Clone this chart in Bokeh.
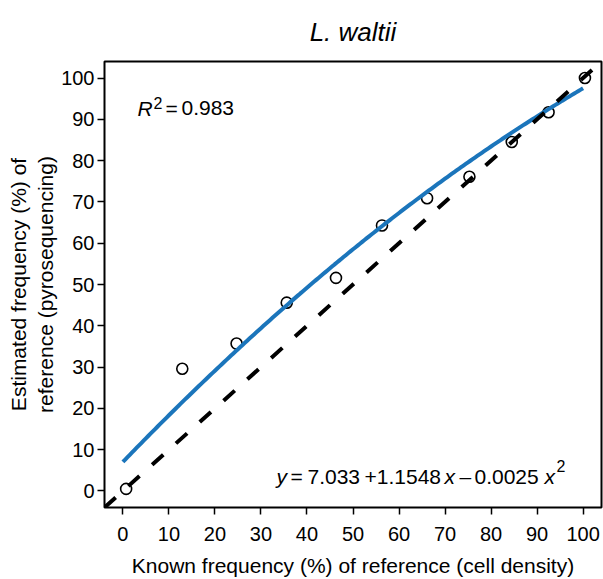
import numpy as np
from bokeh.plotting import figure
from bokeh.models import Range1d, FixedTicker, Label, Slope
from bokeh.embed import file_html
from bokeh.resources import INLINE

# ---- data ----
known_freq = [0.7, 12.9, 24.7, 35.6, 46.3, 56.3, 66.1, 75.3, 84.5, 92.5, 100.4]
estimated_freq = [0.5, 29.6, 35.7, 45.6, 51.6, 64.3, 70.9, 76.1, 84.5, 91.7, 100.0]
fit_coef = [7.033, 1.1548, -0.0025]   # y = a + b x + c x^2
fit_x_range = [0, 100]
tick_values = [0, 10, 20, 30, 40, 50, 60, 70, 80, 90, 100]

FONT = "Liberation Sans"
W, H = 603, 579
L, R, T, B = 104, 2, 60, 72
XMIN, XMAX, YMIN, YMAX = -4, 104, -4, 104

p = figure(width=W, height=H, output_backend="svg", toolbar_location=None,
           x_range=Range1d(XMIN, XMAX), y_range=Range1d(YMIN, YMAX),
           min_border_left=L, min_border_right=R, min_border_top=T, min_border_bottom=B,
           title="L. waltii")
p.background_fill_color = "white"
p.border_fill_color = "white"
p.outline_line_color = "black"
p.outline_line_width = 2
p.grid.visible = False

p.title.text_font = FONT
p.title.text_font_size = "26px"
p.title.text_font_style = "italic"
p.title.align = "center"
p.title.offset = 5
p.title.standoff = 29
p.title.text_color = "black"

for ax in (p.xaxis[0], p.yaxis[0]):
    ax.ticker = FixedTicker(ticks=tick_values, minor_ticks=[])
    ax.axis_line_color = None
    ax.major_tick_in = 0
    ax.major_tick_out = 7
    ax.major_tick_line_width = 1.5
    ax.major_tick_line_color = "black"
    ax.minor_tick_line_color = None
    ax.major_label_text_font = FONT
    ax.major_label_text_font_size = "20px"
    ax.major_label_text_color = "black"
    ax.axis_label_text_font = FONT
    ax.axis_label_text_font_size = "21px"
    ax.axis_label_text_font_style = "normal"
    ax.axis_label_text_color = "black"

p.xaxis.axis_label = "Known frequency (%) of reference (cell density)"
p.xaxis.major_label_standoff = 12
p.xaxis.axis_label_standoff = 10
p.yaxis.axis_label = "Estimated frequency (%) of\nreference (pyrosequencing)"
p.yaxis.major_label_standoff = 3
p.yaxis.axis_label_standoff = 1

# points
p.scatter(known_freq, estimated_freq, marker="circle", size=11,
          fill_color=None, line_color="black", line_width=1.6)

# fitted quadratic curve
xs = np.linspace(fit_x_range[0], fit_x_range[1], 201)
ys = fit_coef[0] + fit_coef[1] * xs + fit_coef[2] * xs ** 2
p.line(xs, ys, line_color="#1b75bb", line_width=4)

# 1:1 reference line
p.add_layout(Slope(gradient=1, y_intercept=0, line_color="black",
                   line_width=4, line_dash="15 17"))

# text annotations positioned in pixel space
fw = W - L - R
fh = H - T - B
def dx(px):
    return XMIN + (px - L) / fw * (XMAX - XMIN)
def dy(py):
    return YMAX - (py - T) / fh * (YMAX - YMIN)

def piece(text, px, py, size=21, italic=False):
    p.add_layout(Label(x=dx(px), y=dy(py), text=text, text_font=FONT,
                       text_font_size=f"{size}px",
                       text_font_style="italic" if italic else "normal",
                       text_align="left", text_baseline="alphabetic",
                       text_color="black"))

# R^2 = 0.983
piece("R", 137, 107, italic=True)
piece("2", 153, 102, size=16)
piece("=", 165, 107)
piece("0.983", 181, 107)

# y = 7.033 +1.1548 x - 0.0025 x^2
piece("y", 276, 476, italic=True)
piece("=", 290, 476)
piece("7.033", 307, 476)
piece("+1.1548", 364, 476)
piece("x", 444, 476, italic=True)
piece("\u2013", 459, 476)
piece("0.0025", 474, 476)
piece("x", 544, 476, italic=True)
piece("2", 556, 465, size=16)

open("out.html", "w").write(file_html(p, INLINE))
